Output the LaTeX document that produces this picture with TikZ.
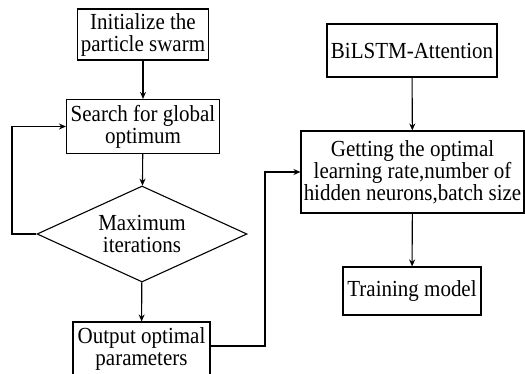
\documentclass[tikz,border=0pt]{standalone}
\usepackage{fontspec}
\setmainfont{Liberation Serif}[FakeStretch=0.913]
\usetikzlibrary{shapes.geometric,arrows.meta}
\begin{document}
\begin{tikzpicture}[x=1pt,y=-1pt,
  box/.style={draw,line width=1.1pt,inner sep=0pt,align=center,
    font=\fontsize{23}{22}\selectfont},
  decision/.style={diamond,draw,line width=1.1pt,inner sep=0pt,align=center,
    aspect=2.2,minimum width=210pt,minimum height=96pt,
    font=\fontsize{23}{22}\selectfont},
  flow/.style={line width=1.1pt,-{Stealth[length=7pt,width=6pt]}}]
\useasboundingbox (0,0) rectangle (525,373);
% left column: particle swarm search
\node[box,minimum width=131pt,minimum height=51pt] (init) at (143,34.5)
  {Initialize the\\particle swarm};
\node[box,minimum width=153pt,minimum height=54pt] (search) at (143,126.5)
  {Search for global\\optimum};
\node[decision] (maxit) at (142,234) {Maximum\\iterations};
\node[box,minimum width=137pt,minimum height=54pt] (output) at (141.5,349)
  {Output optimal\\parameters};
% right column: model training
\node[box,minimum width=170pt,minimum height=53pt] (bilstm) at (412,50.5)
  {BiLSTM-Attention};
\node[box,minimum width=223pt,minimum height=82pt] (getting) at (412.5,172)
  {Getting the optimal\\learning rate,number of\\hidden neurons,batch size};
\node[box,minimum width=138pt,minimum height=48pt] (train) at (412,291)
  {Training model};
% connectors
\coordinate (loopL) at (12,0);
\coordinate (jog) at (265,0);
\draw[flow] (init) -- (search);
\draw[flow] (search) -- (maxit);
\draw[flow] (maxit) -- (output);
\draw[flow] (maxit.west) -- (maxit.west -| loopL) |- (search.west);
\draw[flow] ([yshift=3pt]output.east) -- ([yshift=3pt]output.east -| jog)
  |- (getting.west);
\draw[flow] (bilstm) -- (getting);
\draw[flow] (getting) -- (train);
\end{tikzpicture}
\end{document}
